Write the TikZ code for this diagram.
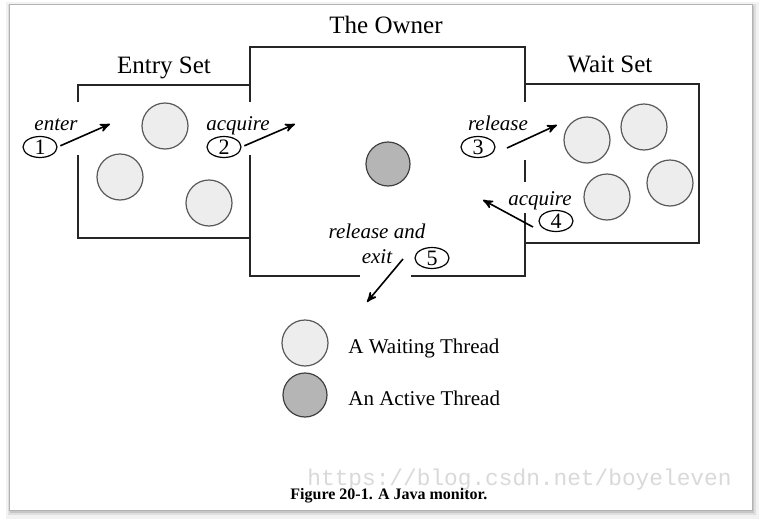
\documentclass[tikz,border=0pt]{standalone}
\usepackage{fontspec}
\setmainfont{Liberation Serif}
\newfontfamily\wmfont{Liberation Mono}
\usetikzlibrary{arrows,shapes.geometric}

\begin{document}
\begin{tikzpicture}[x=0.5pt,y=-0.5pt,>=stealth',
	waiting/.style={circle,draw=black!65,fill=gray!14,line width=0.6pt,minimum size=23pt,inner sep=0pt},
	active/.style={circle,draw=black!75,fill=gray!58,line width=0.6pt,minimum size=22pt,inner sep=0pt},
	numbox/.style={ellipse,draw,line width=0.6pt,inner sep=0pt,minimum width=17pt,minimum height=10.5pt,font=\fontsize{11}{12}\selectfont},
	act/.style={anchor=base,font=\fontsize{10.5}{12}\selectfont\itshape},
	title/.style={anchor=base,font=\fontsize{12.5}{14}\selectfont},
	legend/.style={anchor=base west,inner sep=0pt,font=\fontsize{10.5}{12}\selectfont},
	wall/.style={line width=1pt,draw=black!85},
	move/.style={->,line width=0.8pt}]

\useasboundingbox (0,0) rectangle (762,525);

% frame of the page
\fill[gray!10] (6,2) rectangle (759,519);
\fill[gray!25] (8,4) rectangle (756,515);
\fill[gray!45] (10,6) rectangle (754,513);
\filldraw[fill=white,draw=gray!60] (9,4) rectangle (752,510);

% the three rooms
\draw[wall] (78,102) -- (78,85) -- (250,85);
\draw[wall] (78,155) -- (78,238) -- (250,238);
\draw[wall] (250,102) -- (250,47) -- (525,47) -- (525,102);
\draw[wall] (250,155) -- (250,276) -- (360,276);
\draw[wall] (411,276) -- (525,276) -- (525,213);
\draw[wall] (525,160) -- (525,182);
\draw[wall] (525,84) -- (699,84) -- (699,243) -- (525,243);

\node[title] (owner) at (386,33) {The Owner};
\node[title] (entry) at (164,73) {Entry Set};
\node[title] (wait)  at (610,72) {Wait Set};

% threads
\node[waiting] (e1) at (165,126) {};
\node[waiting] (e2) at (120,177) {};
\node[waiting] (e3) at (209,203) {};
\node[waiting] (w1) at (587,140) {};
\node[waiting] (w2) at (644,127) {};
\node[waiting] (w3) at (607,197) {};
\node[waiting] (w4) at (670,183) {};
\node[active]  (o1) at (388,164) {};

% steps
\node[numbox] (n1) at (40,147) {1};
\node[numbox] (n2) at (224,147) {2};
\node[numbox] (n3) at (478,147) {3};
\node[numbox] (n4) at (556,221) {4};
\node[numbox] (n5) at (432,258) {5};

\node[act] (enter)   at (56,130)  {enter};
\node[act] (acq1)    at (238,130) {acquire};
\node[act] (rel)     at (498,130) {release};
\node[act] (acq2)    at (540,205) {acquire};
\node[act] (relexit) at (377,238) {release and};
\node[act] (exit)    at (377,263) {exit};

\coordinate (t1) at (110,124);
\coordinate (t2) at (295,124);
\coordinate (s3) at (507,148);
\coordinate (t3) at (557,125);
\coordinate (s4) at (533,227);
\coordinate (t4) at (483,200);
\coordinate (s5) at (403,259);
\coordinate (t5) at (367,302);

\path[move] (n1.east) edge[shorten <=1.5pt] (t1)
	(n2.east) edge[shorten <=1.5pt] (t2)
	(s3) edge (t3)
	(s4) edge (t4)
	(s5) edge (t5);

% legend
\node[waiting] (lw) at (305,343) {};
\node[active]  (la) at (305,395) {};
\node[legend] (lwt) at (348,353) {A Waiting Thread};
\node[legend] (lat) at (348,405) {An Active Thread};

\node[anchor=base west,inner sep=0pt,text=gray!30,font=\wmfont\fontsize{11.4}{12}\selectfont] (mark) at (307,485) {https://blog.csdn.net/boyeleven};
\node[anchor=base west,inner sep=0pt,font=\fontsize{8}{9}\selectfont\bfseries] (caption) at (290,499) {Figure 20-1. A Java monitor.};

\end{tikzpicture}
\end{document}
